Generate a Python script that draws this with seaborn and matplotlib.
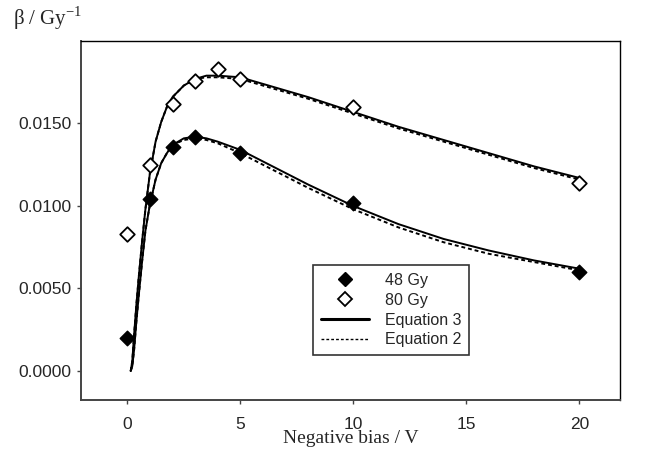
import numpy as np
import pandas as pd
import matplotlib
matplotlib.use("Agg")
import matplotlib.pyplot as plt
import seaborn as sns
from matplotlib.lines import Line2D

# Measured points
bias_48 = [0, 1, 2, 3, 5, 10, 20]
beta_48 = [0.0020, 0.0104, 0.0136, 0.0142, 0.0132, 0.0102, 0.0060]
bias_80 = [0, 1, 2, 3, 4, 5, 10, 20]
beta_80 = [0.0083, 0.0125, 0.0162, 0.0176, 0.0183, 0.0177, 0.0160, 0.0114]

# Fitted curves
curve_x = [0.15, 0.22, 0.3, 0.4, 0.5, 0.65, 0.8, 1.0, 1.25, 1.5, 1.75, 2.0, 2.5, 3.0, 3.5, 4.0,
           5.0, 6.0, 7.0, 8.0, 10.0, 12.0, 14.0, 16.0, 18.0, 20.0]
eq3_48 = [0.0000, 0.0003, 0.0013, 0.0030, 0.0045, 0.0066, 0.0085, 0.0101, 0.0116, 0.0126, 0.0132,
          0.0137, 0.0141, 0.0142, 0.0141, 0.0139, 0.0134, 0.0127, 0.0120, 0.0113, 0.0100,
          0.0089, 0.0080, 0.0073, 0.0067, 0.0062]
eq2_48 = [0.0000, 0.0003, 0.0013, 0.0030, 0.0045, 0.0066, 0.0085, 0.0101, 0.0116, 0.0126, 0.0132,
          0.0137, 0.0140, 0.0141, 0.0140, 0.0138, 0.0132, 0.0125, 0.0118, 0.0111, 0.0098,
          0.0087, 0.0078, 0.0071, 0.0066, 0.0061]
eq3_80 = [0.0000, 0.0006, 0.0022, 0.0040, 0.0056, 0.0078, 0.0098, 0.0120, 0.0139, 0.0151, 0.0160,
          0.0166, 0.0173, 0.0177, 0.0179, 0.0179, 0.0178, 0.0174, 0.0170, 0.0166, 0.0157,
          0.0148, 0.0140, 0.0132, 0.0124, 0.0117]
eq2_80 = [0.0000, 0.0006, 0.0022, 0.0040, 0.0056, 0.0078, 0.0098, 0.0120, 0.0139, 0.0151, 0.0160,
          0.0166, 0.0173, 0.0177, 0.0178, 0.0178, 0.0177, 0.0173, 0.0169, 0.0165, 0.0156,
          0.0147, 0.0139, 0.0131, 0.0123, 0.0116]

x_ticks = [0, 5, 10, 15, 20]
y_ticks = [0.0, 0.005, 0.010, 0.015]
y_tick_labels = ["0.0000", "0.0050", "0.0100", "0.0150"]

sns.set_theme(style="white")
plt.rcParams['font.family'] = ['Liberation Sans', 'DejaVu Sans']
plt.rcParams['mathtext.fontset'] = 'custom'
plt.rcParams['mathtext.rm'] = 'Liberation Serif'

SANS = ['Liberation Sans', 'DejaVu Sans']
SERIF = ['Liberation Serif', 'DejaVu Serif']

fig = plt.figure(figsize=(6.45, 4.57), dpi=100)
ax = fig.add_axes([81 / 645, 1 - 400 / 457, (620 - 81) / 645, (400 - 41) / 457])

df3_48 = pd.DataFrame({"x": curve_x, "y": eq3_48})
df2_48 = pd.DataFrame({"x": curve_x, "y": eq2_48})
df3_80 = pd.DataFrame({"x": curve_x, "y": eq3_80})
df2_80 = pd.DataFrame({"x": curve_x, "y": eq2_80})

sns.lineplot(data=df3_80, x="x", y="y", ax=ax, color="black", lw=1.4, sort=False)
sns.lineplot(data=df2_80, x="x", y="y", ax=ax, color="black", lw=1.4, ls=(0, (2, 1.5)), sort=False)
sns.lineplot(data=df3_48, x="x", y="y", ax=ax, color="black", lw=1.4, sort=False)
sns.lineplot(data=df2_48, x="x", y="y", ax=ax, color="black", lw=1.4, ls=(0, (2, 1.5)), sort=False)

sns.scatterplot(x=bias_48, y=beta_48, ax=ax, marker="D", s=55, color="black",
                edgecolor="black", linewidth=1.0, zorder=5)
sns.scatterplot(x=bias_80, y=beta_80, ax=ax, marker="D", s=55, color="white",
                edgecolor="black", linewidth=1.3, zorder=5)

ax.set_xlim(-2.05, 21.8)
ax.set_ylim(-0.00176, 0.0200)
ax.set_xticks(x_ticks)
ax.set_xticklabels([str(t) for t in x_ticks], fontsize=12.5, family=SANS)
ax.set_yticks(y_ticks)
ax.set_yticklabels(y_tick_labels, fontsize=12.5, family=SANS)
ax.tick_params(axis="both", direction="out", length=3, width=1, color="#444444",
               bottom=True, left=True)
ax.tick_params(axis="x", pad=9)
ax.tick_params(axis="y", pad=4)
for side in ["left", "bottom"]:
    ax.spines[side].set_color("#444444")
    ax.spines[side].set_linewidth(1.4)
for side in ["top", "right"]:
    ax.spines[side].set_color("black")
    ax.spines[side].set_linewidth(1.0)

ax.set_xlabel("Negative bias / V", family=SERIF, fontsize=14, labelpad=-1)
ax.set_ylabel("")
fig.text(13 / 645, 1 - 25 / 457, r"β / Gy$^{\mathregular{-1}}$", family=SERIF,
         fontsize=15, va="baseline", ha="left")

handles = [
    Line2D([], [], marker="D", ls="none", color="black", markersize=7),
    Line2D([], [], marker="D", ls="none", markerfacecolor="white", markeredgecolor="black",
           markeredgewidth=1.3, markersize=7),
    Line2D([], [], color="black", lw=2.2),
    Line2D([], [], color="black", lw=1.0, ls=(0, (2, 1.5))),
]
labels = ["48 Gy", "80 Gy", "Equation 3", "Equation 2"]
leg = ax.legend(handles, labels, loc="upper left", bbox_to_anchor=((313 - 81) / 539, (400 - 265) / 359),
                frameon=True, fancybox=False, edgecolor="black", prop={"family": SANS, "size": 11.5},
                handlelength=3.0, handletextpad=1.0, borderpad=0.5, labelspacing=0.3,
                borderaxespad=0)
leg.get_frame().set_linewidth(1.2)

fig.savefig("out.png", dpi=100)
